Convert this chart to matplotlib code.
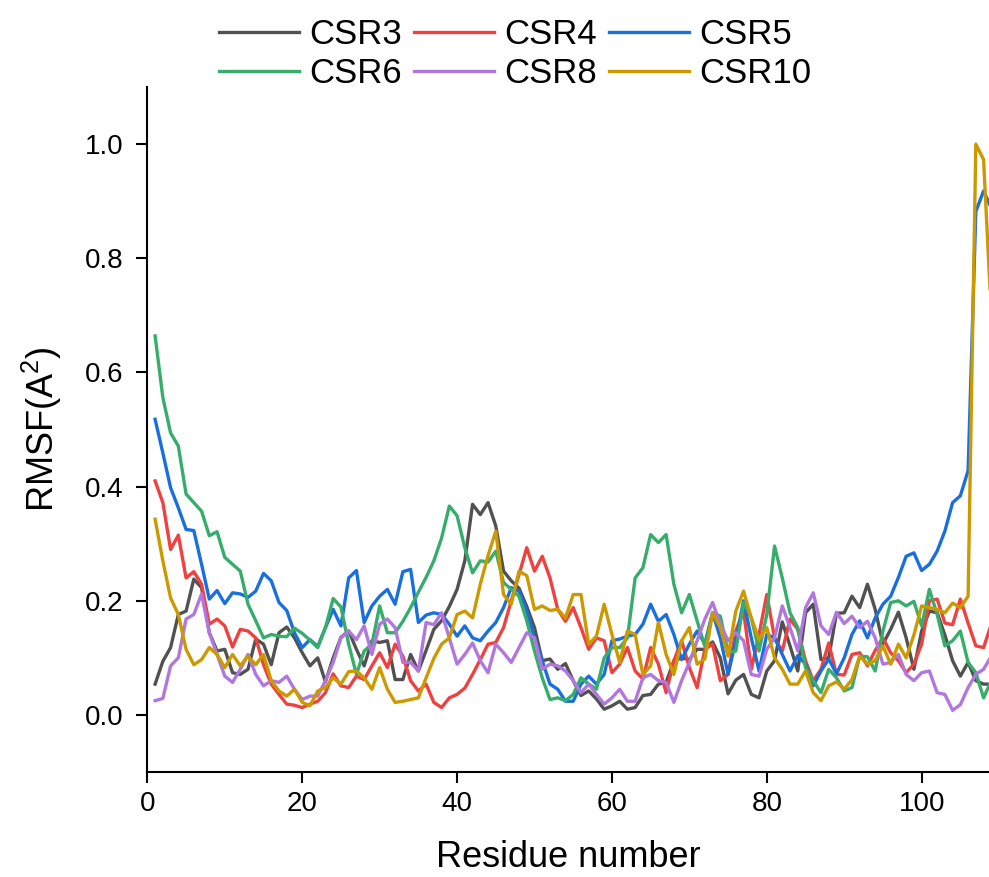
import numpy as np
import matplotlib
matplotlib.use("Agg")
import matplotlib.pyplot as plt

plt.rcParams['font.family'] = ['Liberation Sans', 'DejaVu Sans']
plt.rcParams['mathtext.default'] = 'regular'

residues = list(range(1, 110))

csr3 = [0.054, 0.094, 0.118, 0.176, 0.182, 0.238, 0.223, 0.144, 0.112, 0.115, 0.074, 0.071, 0.080, 0.133, 0.124, 0.088, 0.144, 0.154,
        0.135, 0.109, 0.086, 0.100, 0.058, 0.100, 0.136, 0.147, 0.115, 0.086, 0.130, 0.127, 0.130, 0.062, 0.062, 0.106, 0.077, 0.113,
        0.150, 0.165, 0.190, 0.220, 0.270, 0.369, 0.351, 0.372, 0.331, 0.252, 0.235, 0.222, 0.190, 0.153, 0.095, 0.098, 0.080,
        0.090, 0.060, 0.034, 0.042, 0.028, 0.010, 0.016, 0.024, 0.010, 0.013, 0.034, 0.036, 0.054, 0.057, 0.095, 0.100, 0.097, 0.115,
        0.115, 0.128, 0.100, 0.037, 0.061, 0.071, 0.036, 0.030, 0.077, 0.095, 0.163, 0.121, 0.077, 0.179, 0.194, 0.097, 0.100, 0.178,
        0.179, 0.208, 0.188, 0.229, 0.185, 0.124, 0.150, 0.180, 0.135, 0.080, 0.147, 0.182, 0.179, 0.140, 0.095, 0.068, 0.092, 0.060,
        0.054, 0.054]

csr4 = [0.410, 0.372, 0.290, 0.315, 0.240, 0.251, 0.229, 0.159, 0.168, 0.156, 0.119, 0.150, 0.147, 0.135, 0.088, 0.054, 0.036, 0.019,
        0.017, 0.013, 0.019, 0.024, 0.039, 0.072, 0.051, 0.048, 0.068, 0.062, 0.086, 0.109, 0.083, 0.124, 0.103, 0.060, 0.042, 0.054,
        0.022, 0.013, 0.030, 0.036, 0.047, 0.071, 0.097, 0.124, 0.127, 0.153, 0.200, 0.246, 0.293, 0.252, 0.278, 0.240, 0.185,
        0.164, 0.188, 0.153, 0.115, 0.135, 0.130, 0.074, 0.089, 0.118, 0.077, 0.063, 0.118, 0.089, 0.039, 0.095, 0.130, 0.083, 0.048,
        0.115, 0.124, 0.060, 0.071, 0.147, 0.182, 0.080, 0.141, 0.211, 0.135, 0.112, 0.168, 0.150, 0.095, 0.060, 0.080, 0.126, 0.071,
        0.070, 0.106, 0.109, 0.086, 0.113, 0.135, 0.109, 0.095, 0.074, 0.089, 0.124, 0.200, 0.203, 0.161, 0.158, 0.203, 0.161, 0.121,
        0.118, 0.159]

csr5 = [0.518, 0.459, 0.398, 0.363, 0.325, 0.323, 0.264, 0.203, 0.218, 0.195, 0.214, 0.212, 0.206, 0.217, 0.248, 0.235, 0.197, 0.183,
        0.144, 0.118, 0.132, 0.120, 0.153, 0.185, 0.156, 0.240, 0.253, 0.162, 0.191, 0.208, 0.220, 0.194, 0.251, 0.255, 0.162, 0.175,
        0.179, 0.176, 0.159, 0.138, 0.156, 0.135, 0.130, 0.147, 0.162, 0.188, 0.223, 0.217, 0.182, 0.135, 0.095, 0.054, 0.045,
        0.024, 0.024, 0.054, 0.068, 0.054, 0.071, 0.130, 0.133, 0.138, 0.141, 0.159, 0.194, 0.164, 0.176, 0.141, 0.097, 0.124, 0.147,
        0.125, 0.179, 0.135, 0.071, 0.130, 0.200, 0.135, 0.077, 0.141, 0.135, 0.106, 0.077, 0.104, 0.089, 0.051, 0.077, 0.098, 0.072,
        0.100, 0.141, 0.165, 0.135, 0.170, 0.194, 0.208, 0.241, 0.278, 0.284, 0.253, 0.264, 0.287, 0.322, 0.372, 0.384, 0.428, 0.882,
        0.918, 0.888]

csr6 = [0.664, 0.556, 0.494, 0.471, 0.387, 0.372, 0.357, 0.314, 0.321, 0.276, 0.264, 0.252, 0.194, 0.165, 0.135, 0.141, 0.138, 0.137,
        0.152, 0.143, 0.131, 0.118, 0.153, 0.204, 0.189, 0.124, 0.071, 0.112, 0.124, 0.191, 0.144, 0.144, 0.164, 0.188, 0.215, 0.241,
        0.270, 0.310, 0.366, 0.349, 0.293, 0.249, 0.270, 0.268, 0.287, 0.232, 0.220, 0.208, 0.165, 0.112, 0.065, 0.027, 0.030,
        0.025, 0.036, 0.065, 0.054, 0.045, 0.100, 0.118, 0.118, 0.135, 0.240, 0.258, 0.316, 0.302, 0.316, 0.229, 0.179, 0.211, 0.165,
        0.120, 0.179, 0.173, 0.109, 0.112, 0.197, 0.170, 0.112, 0.176, 0.296, 0.240, 0.179, 0.153, 0.083, 0.060, 0.039, 0.080, 0.065,
        0.042, 0.048, 0.103, 0.102, 0.077, 0.147, 0.197, 0.200, 0.191, 0.199, 0.156, 0.220, 0.176, 0.121, 0.130, 0.147, 0.092, 0.074,
        0.030, 0.060]

csr8 = [0.025, 0.029, 0.086, 0.100, 0.168, 0.176, 0.212, 0.144, 0.106, 0.068, 0.057, 0.080, 0.106, 0.071, 0.051, 0.060, 0.057, 0.068,
        0.045, 0.027, 0.033, 0.033, 0.060, 0.092, 0.135, 0.147, 0.132, 0.156, 0.106, 0.159, 0.168, 0.153, 0.092, 0.092, 0.077, 0.162,
        0.158, 0.179, 0.135, 0.089, 0.106, 0.126, 0.095, 0.074, 0.124, 0.109, 0.092, 0.118, 0.144, 0.135, 0.080, 0.089, 0.086,
        0.077, 0.060, 0.039, 0.054, 0.036, 0.019, 0.030, 0.045, 0.024, 0.024, 0.065, 0.071, 0.060, 0.057, 0.022, 0.060, 0.092, 0.130,
        0.168, 0.197, 0.159, 0.130, 0.144, 0.130, 0.071, 0.068, 0.115, 0.135, 0.191, 0.153, 0.112, 0.188, 0.214, 0.156, 0.141, 0.180,
        0.160, 0.173, 0.153, 0.164, 0.135, 0.089, 0.092, 0.106, 0.071, 0.060, 0.074, 0.077, 0.039, 0.036, 0.008, 0.018, 0.048, 0.071,
        0.080, 0.103]

csr10 = [0.343, 0.270, 0.205, 0.176, 0.115, 0.088, 0.097, 0.118, 0.106, 0.083, 0.106, 0.086, 0.103, 0.088, 0.106, 0.060, 0.042, 0.033,
         0.045, 0.022, 0.016, 0.042, 0.048, 0.065, 0.054, 0.076, 0.077, 0.065, 0.045, 0.083, 0.045, 0.022, 0.024, 0.027, 0.030, 0.065,
         0.099, 0.124, 0.135, 0.176, 0.182, 0.170, 0.229, 0.279, 0.322, 0.211, 0.194, 0.252, 0.244, 0.185, 0.191, 0.183, 0.185,
         0.170, 0.211, 0.211, 0.124, 0.138, 0.194, 0.141, 0.092, 0.147, 0.141, 0.071, 0.086, 0.162, 0.106, 0.071, 0.130, 0.153, 0.089,
         0.098, 0.179, 0.153, 0.103, 0.182, 0.217, 0.170, 0.132, 0.153, 0.100, 0.080, 0.054, 0.054, 0.077, 0.039, 0.025, 0.051, 0.058,
         0.045, 0.062, 0.103, 0.089, 0.095, 0.121, 0.089, 0.124, 0.100, 0.140, 0.191, 0.188, 0.185, 0.179, 0.196, 0.188, 0.208, 1.000,
         0.973, 0.700]

series = [("CSR3", csr3, "#515151"), ("CSR4", csr4, "#F14040"), ("CSR5", csr5, "#1A6FDF"),
          ("CSR6", csr6, "#37AD6B"), ("CSR8", csr8, "#B177DE"), ("CSR10", csr10, "#CC9900")]

fig = plt.figure(figsize=(9.89, 8.77), dpi=100)
ax = fig.add_axes([0.149, 0.1197, 0.851, 0.781])

handles = {}
for name, vals, col in series:
    handles[name], = ax.plot(residues, vals, color=col, lw=2.4, label=name)

ax.set_xlim(0, 108.7)
ax.set_ylim(-0.1, 1.1)
ax.set_xticks([0, 20, 40, 60, 80, 100])
ax.set_yticks([0.0, 0.2, 0.4, 0.6, 0.8, 1.0])
ax.set_yticklabels(["0.0", "0.2", "0.4", "0.6", "0.8", "1.0"])
for s in ("top", "right"):
    ax.spines[s].set_visible(False)
for s in ("left", "bottom"):
    ax.spines[s].set_linewidth(1.5)
ax.tick_params(axis="both", direction="out", length=8, width=1.5, labelsize=20)
ax.tick_params(axis="y", pad=9)
ax.tick_params(axis="x", pad=6)

ax.set_xlabel("Residue number", fontsize=26, labelpad=16)
ax.set_ylabel("RMSF(A$^2$)", fontsize=26, labelpad=15)

# row-wise legend order (matplotlib fills columns first)
order = ["CSR3", "CSR6", "CSR4", "CSR8", "CSR5", "CSR10"]
fig.legend([handles[n] for n in order], order, loc="upper center",
           bbox_to_anchor=(0.521, 0.983), ncol=3, frameon=False,
           fontsize=25, handlelength=2.3, handletextpad=0.3, columnspacing=0.35,
           labelspacing=0.17, borderaxespad=0.0, borderpad=0.1)

fig.savefig("out.png", dpi=100)
